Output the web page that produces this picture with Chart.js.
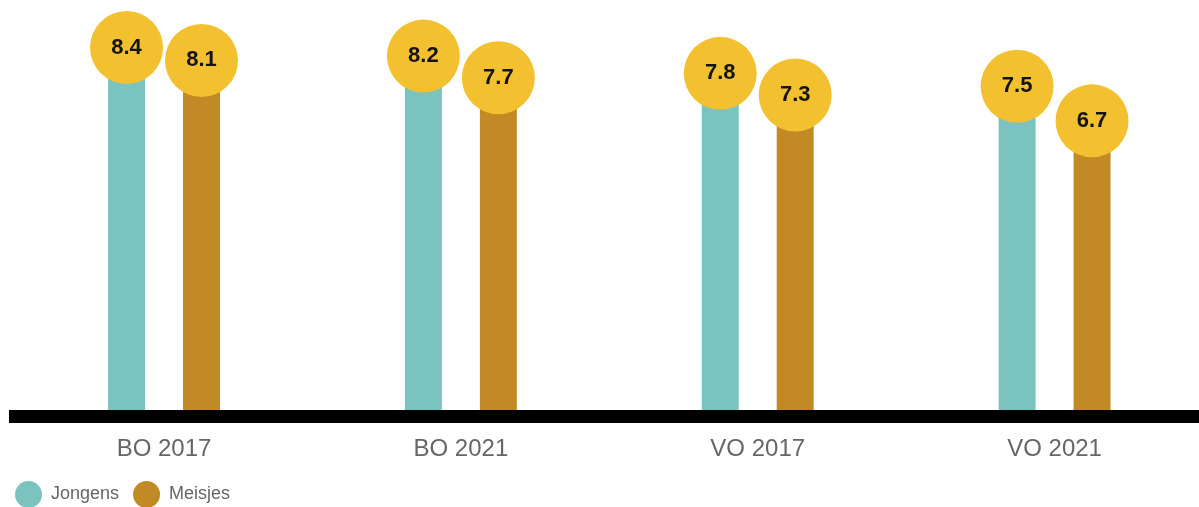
<!DOCTYPE html>
<html>
<head>
<meta charset="utf-8">
<script src="https://cdn.jsdelivr.net/npm/chart.js@4/dist/chart.umd.min.js"></script>
<style>
  html, body { margin: 0; padding: 0; background: #fff; overflow: hidden; }
  #wrap { width: 1203px; height: 507px; position: relative; }
</style>
</head>
<body>
<div id="wrap"><canvas id="grafiek"></canvas></div>
<script>
// de gegevens
const categorieen = ['BO 2017', 'BO 2021', 'VO 2017', 'VO 2021'];
const jongens = [8.4, 8.2, 7.8, 7.5];
const meisjes = [8.1, 7.7, 7.3, 6.7];

const kleurJongens = '#7bc3bf';
const kleurMeisjes = '#c18a24';
const kleurBol = '#f3c130';

// gele bollen met het cijfer bovenop elke staaf
const bollen = {
  id: 'bollen',
  afterDatasetsDraw(chart) {
    const ctx = chart.ctx;
    ctx.save();
    chart.data.datasets.forEach((ds, i) => {
      const meta = chart.getDatasetMeta(i);
      meta.data.forEach((bar, j) => {
        ctx.beginPath();
        ctx.arc(bar.x, bar.y, 36.5, 0, Math.PI * 2);
        ctx.fillStyle = kleurBol;
        ctx.fill();
        ctx.fillStyle = '#141414';
        ctx.font = 'bold 22px "Liberation Sans", Arial, sans-serif';
        ctx.textAlign = 'center';
        ctx.textBaseline = 'middle';
        ctx.fillText(ds.data[j].toFixed(1), bar.x, bar.y);
      });
    });
    ctx.restore();
  }
};

const grafiek = new Chart(document.querySelector('#grafiek'), {
  type: 'bar',
  data: {
    labels: categorieen,
    datasets: [{
      label: 'Jongens',
      data: jongens,
      backgroundColor: kleurJongens,
      borderWidth: 0,
      categoryPercentage: 0.505,
      barPercentage: 0.493
    }, {
      label: 'Meisjes',
      data: meisjes,
      backgroundColor: kleurMeisjes,
      borderWidth: 0,
      categoryPercentage: 0.505,
      barPercentage: 0.493
    }]
  },
  options: {
    responsive: true,
    maintainAspectRatio: false,
    animation: false,
    layout: { padding: { left: 1, right: 0, top: 0, bottom: -11 } },
    plugins: {
      tooltip: { enabled: false },
      legend: {
        position: 'bottom',
        align: 'start',
        labels: {
          boxWidth: 27,
          boxHeight: 27,
          useBorderRadius: true,
          borderRadius: 13.5,
          padding: 14,
          color: '#666',
          font: { size: 18, family: '"Liberation Sans", Arial, sans-serif' }
        }
      }
    },
    scales: {
      x: {
        grid: { display: false, drawTicks: false },
        border: { display: true, color: '#000', width: 13 },
        ticks: {
          padding: 18,
          color: '#666',
          font: { size: 24, family: '"Liberation Sans", Arial, sans-serif' }
        },
        afterFit: (s) => { s.height = 50.5; }
      },
      y: {
        min: -0.15,
        max: 9.5,
        grid: { display: false },
        border: { display: false },
        ticks: { display: false },
        afterFit: (s) => { s.width = 14.6; }
      }
    }
  },
  plugins: [bollen]
});
</script>
</body>
</html>
